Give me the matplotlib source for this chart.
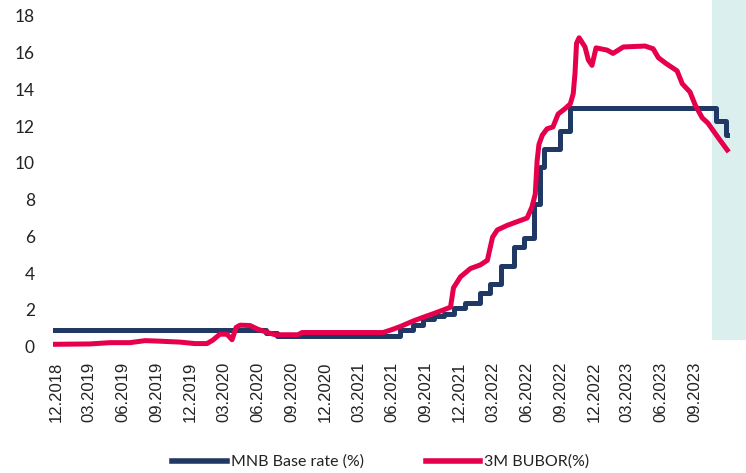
import numpy as np
import pandas as pd
import matplotlib
matplotlib.use('Agg')
import matplotlib.pyplot as plt
import matplotlib.dates as mdates

# MNB base rate (%) - date of change and new level
base_dates = ['2018-11-23', '2020-06-23', '2020-07-22', '2021-06-22', '2021-07-27',
              '2021-08-24', '2021-09-21', '2021-10-19', '2021-11-16', '2021-12-14',
              '2022-01-25', '2022-02-22', '2022-03-22', '2022-04-26', '2022-05-24',
              '2022-06-21', '2022-07-07', '2022-07-19', '2022-08-30', '2022-09-27',
              '2023-10-28', '2023-11-23', '2023-11-27']
base_rate = [0.9, 0.75, 0.6, 0.9, 1.2,
             1.5, 1.65, 1.8, 2.1, 2.4,
             2.9, 3.4, 4.4, 5.4, 5.9,
             7.75, 9.75, 10.75, 11.75, 13.0,
             12.25, 11.5, 11.5]

# 3M BUBOR (%)
bubor_dates = ['2018-11-23', '2019-03-03', '2019-04-27', '2019-06-20', '2019-07-31',
               '2019-09-09', '2019-11-03', '2019-12-13', '2020-01-15', '2020-01-31',
               '2020-02-19', '2020-03-09', '2020-03-23', '2020-04-03', '2020-04-14',
               '2020-05-11', '2020-06-01', '2020-06-26', '2020-07-18', '2020-09-18',
               '2020-09-29', '2021-05-07', '2021-06-03', '2021-06-23', '2021-07-28',
               '2021-08-24', '2021-09-21', '2021-10-18', '2021-11-06', '2021-11-14',
               '2021-12-03', '2021-12-30', '2022-01-26', '2022-02-14', '2022-02-28',
               '2022-03-13', '2022-04-09', '2022-05-06', '2022-06-02', '2022-06-15',
               '2022-06-24', '2022-06-29', '2022-07-04', '2022-07-13', '2022-07-26',
               '2022-08-11', '2022-08-25', '2022-09-13', '2022-09-27', '2022-10-05',
               '2022-10-10', '2022-10-14', '2022-10-21', '2022-11-06', '2022-11-15',
               '2022-11-25', '2022-12-06', '2023-01-05', '2023-01-21', '2023-02-18',
               '2023-04-18', '2023-05-10', '2023-05-24', '2023-06-14', '2023-07-14',
               '2023-07-28', '2023-08-18', '2023-09-01', '2023-09-20', '2023-10-06',
               '2023-10-20', '2023-11-05', '2023-11-27']
bubor = [0.13, 0.15, 0.22, 0.22, 0.33,
         0.30, 0.25, 0.17, 0.17, 0.36,
         0.68, 0.68, 0.38, 1.05, 1.17,
         1.15, 0.95, 0.78, 0.65, 0.65,
         0.77, 0.77, 0.95, 1.1, 1.4,
         1.6, 1.8, 2.0, 2.15, 3.2,
         3.8, 4.25, 4.45, 4.7, 5.95,
         6.35, 6.6, 6.8, 7.0, 7.6,
         8.3, 10.1, 11.0, 11.5, 11.85,
         11.95, 12.65, 12.95, 13.2, 13.75,
         14.9, 16.5, 16.8, 16.3, 15.6,
         15.3, 16.25, 16.13, 15.95, 16.3,
         16.35, 16.2, 15.72, 15.4, 15.0,
         14.3, 13.85, 13.15, 12.45, 12.15,
         11.75, 11.3, 10.7]

tick_dates = pd.date_range('2018-12-01', '2023-09-01', freq='3MS')
shade_start = '2023-10-17'

navy = '#203864'
red = '#E6004C'

fig = plt.figure(figsize=(7.46, 4.73), dpi=100)
ax = fig.add_axes([53 / 746, 1 - 346.7 / 473, 693 / 746, 331 / 473])

ax.axvspan(pd.Timestamp(shade_start), pd.Timestamp('2024-01-17'), ymin=0.02, ymax=1.05,
           color='#DBEFEE', lw=0, clip_on=False, zorder=0)

ax.step(pd.to_datetime(base_dates), base_rate, where='post', color=navy, lw=3.6,
        label='MNB Base rate (%)', zorder=2)
ax.plot(pd.to_datetime(bubor_dates), bubor, color=red, lw=3.6,
        label='3M BUBOR(%)', zorder=3)

ax.set_xlim(pd.Timestamp('2018-11-23'), pd.Timestamp('2024-01-17'))
ax.set_ylim(0, 18)
ax.set_yticks(np.arange(0, 19, 2))
ax.set_xticks(tick_dates)
ax.xaxis.set_major_formatter(mdates.DateFormatter('%m.%Y'))

for s in ax.spines.values():
    s.set_visible(False)
ax.tick_params(axis='both', length=0)
ax.tick_params(axis='y', pad=13, labelsize=12.5, labelcolor='#222222')
ax.tick_params(axis='x', pad=11, labelsize=12, labelrotation=90, labelcolor='#222222')
for lbl in ax.get_yticklabels():
    lbl.set_family('Lato')
for lbl in ax.get_xticklabels():
    lbl.set_family('Liberation Sans')

leg = fig.legend(loc='center', bbox_to_anchor=(381 / 746, 1 - 462 / 473), ncol=2,
                 frameon=False, handlelength=3.4, handletextpad=0.25, columnspacing=3.9,
                 prop={'family': 'Lato', 'size': 11.5})
for line in leg.get_lines():
    line.set_linewidth(4)
for t in leg.get_texts():
    t.set_color('#222222')

fig.savefig('out.png', dpi=100)
